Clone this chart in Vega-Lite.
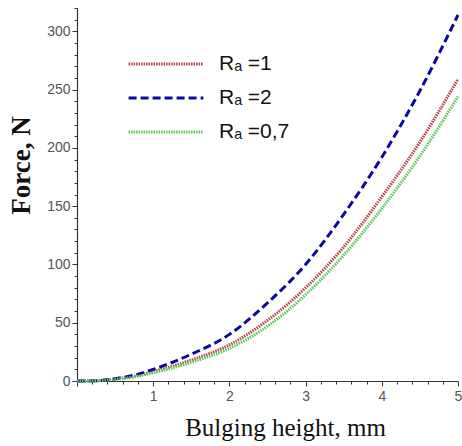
{
  "$schema": "https://vega.github.io/schema/vega-lite/v6.json",
  "autosize": "none",
  "padding": {"left": 77, "top": 8, "right": 4, "bottom": 65},
  "width": 381,
  "height": 373,
  "background": "white",
  "config": {"view": {"stroke": null}},
  "data": {
    "values": [
      {"h": 0, "F": 0, "s": "Rₐ =1"},
      {"h": 0.25, "F": 0.2, "s": "Rₐ =1"},
      {"h": 0.5, "F": 1.7, "s": "Rₐ =1"},
      {"h": 0.75, "F": 4, "s": "Rₐ =1"},
      {"h": 1, "F": 8, "s": "Rₐ =1"},
      {"h": 1.5, "F": 18, "s": "Rₐ =1"},
      {"h": 2, "F": 31, "s": "Rₐ =1"},
      {"h": 2.5, "F": 52, "s": "Rₐ =1"},
      {"h": 3, "F": 80, "s": "Rₐ =1"},
      {"h": 3.5, "F": 115, "s": "Rₐ =1"},
      {"h": 4, "F": 158, "s": "Rₐ =1"},
      {"h": 4.5, "F": 205, "s": "Rₐ =1"},
      {"h": 5, "F": 259, "s": "Rₐ =1"},
      {"h": 0, "F": 0, "s": "Rₐ =2"},
      {"h": 0.25, "F": 0.2, "s": "Rₐ =2"},
      {"h": 0.5, "F": 2, "s": "Rₐ =2"},
      {"h": 0.75, "F": 5, "s": "Rₐ =2"},
      {"h": 1, "F": 10, "s": "Rₐ =2"},
      {"h": 1.5, "F": 23, "s": "Rₐ =2"},
      {"h": 2, "F": 40, "s": "Rₐ =2"},
      {"h": 2.5, "F": 67, "s": "Rₐ =2"},
      {"h": 3, "F": 100, "s": "Rₐ =2"},
      {"h": 3.5, "F": 143, "s": "Rₐ =2"},
      {"h": 4, "F": 192, "s": "Rₐ =2"},
      {"h": 4.5, "F": 249, "s": "Rₐ =2"},
      {"h": 5, "F": 314, "s": "Rₐ =2"},
      {"h": 0, "F": 0, "s": "Rₐ =0,7"},
      {"h": 0.25, "F": 0.2, "s": "Rₐ =0,7"},
      {"h": 0.5, "F": 1.5, "s": "Rₐ =0,7"},
      {"h": 0.75, "F": 3.6, "s": "Rₐ =0,7"},
      {"h": 1, "F": 7, "s": "Rₐ =0,7"},
      {"h": 1.5, "F": 16, "s": "Rₐ =0,7"},
      {"h": 2, "F": 28, "s": "Rₐ =0,7"},
      {"h": 2.5, "F": 47, "s": "Rₐ =0,7"},
      {"h": 3, "F": 74, "s": "Rₐ =0,7"},
      {"h": 3.5, "F": 108, "s": "Rₐ =0,7"},
      {"h": 4, "F": 148, "s": "Rₐ =0,7"},
      {"h": 4.5, "F": 193, "s": "Rₐ =0,7"},
      {"h": 5, "F": 244, "s": "Rₐ =0,7"}
    ]
  },
  "mark": {"type": "line", "interpolate": "monotone", "strokeWidth": 3, "clip": false},
  "encoding": {
    "x": {
      "field": "h", "type": "quantitative",
      "scale": {"domain": [0, 5], "nice": false, "zero": true},
      "axis": {
        "title": "Bulging height, mm",
        "titleFont": "Liberation Serif", "titleFontSize": 25, "titleFontWeight": "normal", "titleColor": "#111",
        "titlePadding": 12, "titleX": 208,
        "values": [0,0.2,0.4,0.6,0.8,1,1.2,1.4,1.6,1.8,2,2.2,2.4,2.6,2.8,3,3.2,3.4,3.6,3.8,4,4.2,4.4,4.6,4.8,5],
        "labelExpr": "abs(datum.value - round(datum.value)) < 0.001 && datum.value > 0 ? format(datum.value, 'd') : ''",
        "labelFont": "Liberation Sans", "labelFontSize": 14, "labelColor": "#555",
        "labelPadding": 3, "labelFlush": false,
        "domainColor": "#333", "domainWidth": 1.2,
        "tickColor": "#333",
        "tickSize": {"condition": {"test": "abs(datum.value - round(datum.value)) < 0.001", "value": 5}, "value": 3},
        "grid": false
      }
    },
    "y": {
      "field": "F", "type": "quantitative",
      "scale": {"domain": [0, 320], "nice": false},
      "axis": {
        "title": "Force, N",
        "titleFont": "Liberation Serif", "titleFontSize": 27, "titleFontWeight": "bold", "titleColor": "#111",
        "titlePadding": 11, "titleY": 157,
        "values": [0,10,20,30,40,50,60,70,80,90,100,110,120,130,140,150,160,170,180,190,200,210,220,230,240,250,260,270,280,290,300,310,320],
        "labelExpr": "datum.value % 50 === 0 ? format(datum.value, 'd') : ''",
        "labelFont": "Liberation Sans", "labelFontSize": 14, "labelColor": "#555",
        "labelPadding": 2,
        "domainColor": "#333", "domainWidth": 1.2,
        "tickColor": "#333",
        "tickSize": {"condition": {"test": "datum.value % 50 === 0", "value": 5}, "value": 3},
        "grid": false
      }
    },
    "color": {
      "field": "s", "type": "nominal",
      "scale": {"domain": ["Rₐ =1", "Rₐ =2", "Rₐ =0,7"], "range": ["#b04848", "#0a0a9a", "#5cc85c"]},
      "legend": {
        "title": null, "orient": "none", "legendX": 50, "legendY": 45,
        "symbolType": "stroke", "symbolSize": 5600, "symbolStrokeWidth": 3,
        "clipHeight": 22,
        "labelFont": "Liberation Sans", "labelFontSize": 21, "labelColor": "#111",
        "labelOffset": 14, "rowPadding": 12, "padding": 0
      }
    },
    "strokeDash": {
      "field": "s", "type": "nominal",
      "scale": {"domain": ["Rₐ =1", "Rₐ =2", "Rₐ =0,7"], "range": [[1.5, 1], [8, 4], [1.5, 1]]},
      "legend": null
    }
  }
}
